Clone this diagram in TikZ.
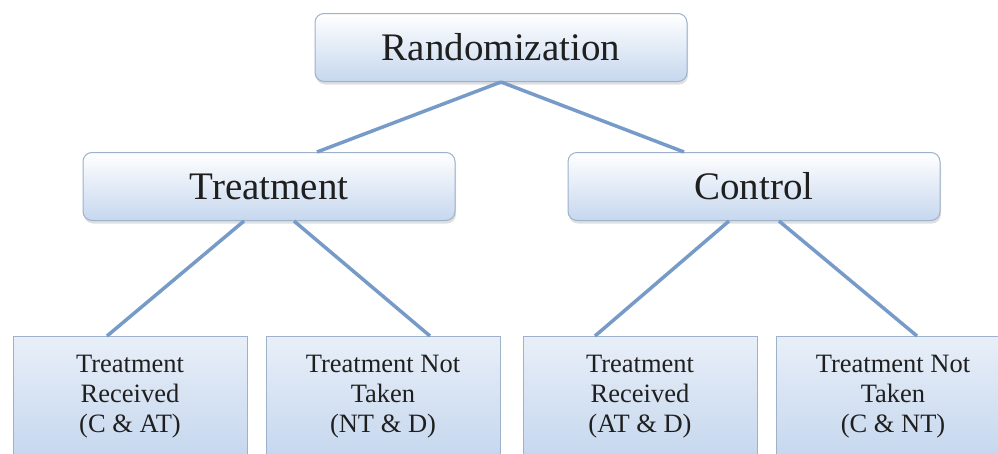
\documentclass[tikz,border=0pt]{standalone}
\usepackage{fontspec}
\setmainfont{Liberation Serif}
\usetikzlibrary{positioning,shadows}
\definecolor{boxline}{HTML}{9DB1CB}
\definecolor{boxlow}{HTML}{C6D7EE}
\definecolor{leaftop}{HTML}{E8EFF8}
\definecolor{edgeblue}{HTML}{779BC8}

\begin{document}
\begin{tikzpicture}[x=1pt, y=-1pt,
  top node/.style={draw=boxline, line width=1pt, rounded corners=9pt, top color=white, bottom color=boxlow,
    minimum width=372pt, minimum height=68pt, text=black!88, font=\fontsize{39}{40}\selectfont,
    drop shadow={opacity=0.25, shadow xshift=1pt, shadow yshift=-3pt}},
  leaf node/.style={draw=boxline, line width=1pt, top color=leaftop, bottom color=boxlow,
    minimum width=234pt, minimum height=120pt, align=center, text=black!88,
    font=\fontsize{26.5}{30}\selectfont},
  link/.style={draw=edgeblue, line width=3.5pt},
  node distance=139pt]
  \clip (0,0) rectangle (998,453);

  \node[top node] (rand) at (501,47.5) {Randomization};
  \node[top node] (treat) [below of=rand, xshift=-232pt] {Treatment};
  \node[top node] (ctrl) [below of=rand, xshift=253pt] {Control};

  \node[leaf node] (treatrec) [below of=treat, xshift=-139pt, yshift=-71pt] {Treatment\\Received\\(C \& AT)};
  \node[leaf node] (treatnot) [below of=treat, xshift=114pt, yshift=-71pt] {Treatment Not\\Taken\\(NT \& D)};
  \node[leaf node] (ctrlrec) [below of=ctrl, xshift=-114pt, yshift=-71pt] {Treatment\\Received\\(AT \& D)};
  \node[leaf node] (ctrlnot) [below of=ctrl, xshift=139pt, yshift=-71pt] {Treatment Not\\Taken\\(C \& NT)};

  \draw[link] (rand.south) -- ([xshift=48pt]treat.north);
  \draw[link] (rand.south) -- ([xshift=-70pt]ctrl.north);
  \draw[link] ([xshift=-25pt]treat.south) -- ([xshift=-23pt]treatrec.north);
  \draw[link] ([xshift=25pt]treat.south) -- ([xshift=47pt]treatnot.north);
  \draw[link] ([xshift=-25pt]ctrl.south) -- ([xshift=-45pt]ctrlrec.north);
  \draw[link] ([xshift=25pt]ctrl.south) -- ([xshift=24pt]ctrlnot.north);
\end{tikzpicture}
\end{document}
